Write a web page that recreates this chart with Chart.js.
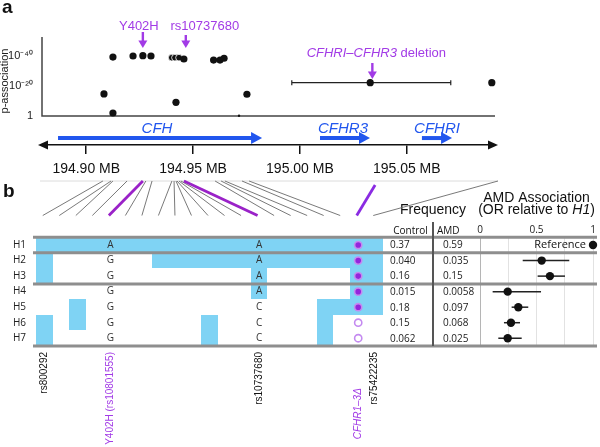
<!DOCTYPE html>
<html>
<head>
<meta charset="utf-8">
<script src="https://cdn.jsdelivr.net/npm/chart.js@4.4.1/dist/chart.umd.min.js"></script>
<style>
  body { margin: 0; background: #fff; width: 600px; height: 447px; position: relative; overflow: hidden; }
  canvas { position: absolute; left: 0; }
  #top { top: 0; }
  #forest, #haplo { top: 175px; }
</style>
</head>
<body>
<canvas id="top" width="600" height="180"></canvas>
<canvas id="forest" width="600" height="272"></canvas>
<canvas id="haplo" width="600" height="272"></canvas>
<script>
const FONT = '"Liberation Sans", Arial, sans-serif';
const TFONT = '"Open Sans", "Liberation Sans", sans-serif';
const PURPLE = '#a23be6';
const BLUE = '#2156ee';
const CELL = '#7fd3f4';
const SEP = '#8e8e8e';
Chart.defaults.font.family = FONT;
Chart.defaults.color = '#111';

// ---- panel a: association (-log10 p) by position in MB ----
const snpPos = [194.9083, 194.9125, 194.9125, 194.9219, 194.9265, 194.9303, 194.9400, 194.9415,
  194.9434, 194.9457, 194.9420, 194.9596, 194.9626, 194.9645, 194.9752, 194.9715, 195.0329, 195.0898];
const snpLogP = [14.7, 2, 39.3, 40, 40.2, 40, 38.9, 38.9, 38.9, 38, 9.1, 37.3, 37.3, 38.5, 14.5, 0.2, 22.2, 22.2];
const delIdx = 16;
const delLow = 194.9962;
const delHigh = 195.0706;

const pTicks = [0, 20, 40];
const pLabels = ['1', '10⁻²⁰', '10⁻⁴⁰'];
const mbTicks = [194.90, 194.95, 195.00, 195.05];

const genes = ['CFH', 'CFHR3', 'CFHRI'];
const geneStart = [194.8868, 195.0094, 195.0571];
const geneEnd = [194.9823, 195.0328, 195.0712];

const markLabels = ['Y402H', 'rs10737680'];
const markPos = [194.9265, 194.9466];
const delMarkPos = 195.0339;

// ---- panel b: haplotypes over 21 SNP columns ----
const colPos = [194.9078, 194.9116, 194.9125, 194.9191, 194.9265, 194.9279, 194.9308, 194.9401,
  194.9411, 194.9420, 194.9425, 194.9434, 194.9443, 194.9457, 194.9603, 194.9631, 194.9649,
  194.9729, 194.9762, 195.0352, 195.0927];
const haplotypes = ['H1', 'H2', 'H3', 'H4', 'H5', 'H6', 'H7'];
const hapBits = [
  '111111111111111111111',
  '100000011111111111111',
  '100000000000010000011',
  '000000000000010000011',
  '001000000000000001111',
  '101000000010000001000',
  '100000000010000001000'
];
const y402hAllele = ['A', 'G', 'G', 'G', 'G', 'G', 'G'];
const rs107Allele = ['A', 'A', 'A', 'A', 'C', 'C', 'C'];
const hasCFHR = [1, 1, 1, 1, 1, 0, 0];
const snpLabelCols = [0, 4, 13, 19, 20];
const snpLabels = ['rs800292', 'Y402H (rs10801555)', 'rs10737680', 'CFHR1–3Δ             ', 'rs75422235'];
const purpleCols = [4, 13, 19];

const ctrlFreq = ['0.37', '0.040', '0.16', '0.015', '0.18', '0.15', '0.062'];
const amdFreq = ['0.59', '0.035', '0.15', '0.0058', '0.097', '0.068', '0.025'];

const orEst = [1, 0.546, 0.619, 0.245, 0.339, 0.274, 0.245];
const orLow = [null, 0.378, 0.51, 0.112, 0.28, 0.212, 0.162];
const orHigh = [null, 0.79, 0.752, 0.54, 0.427, 0.354, 0.369];
const orTicks = [0, 0.25, 0.5, 0.75, 1];
const orLabels = ['0', '', '0.5', '', '1'];

function arrowDown(ctx, x, y0, y1, color) {
  ctx.strokeStyle = color; ctx.fillStyle = color; ctx.lineWidth = 2.4;
  ctx.beginPath(); ctx.moveTo(x, y0); ctx.lineTo(x, y1 - 6); ctx.stroke();
  ctx.beginPath(); ctx.moveTo(x - 4.5, y1 - 7.5); ctx.lineTo(x + 4.5, y1 - 7.5); ctx.lineTo(x, y1); ctx.closePath(); ctx.fill();
}

function arrowRight(ctx, x0, x1, y, color) {
  ctx.strokeStyle = color; ctx.fillStyle = color; ctx.lineWidth = 4;
  ctx.beginPath(); ctx.moveTo(x0, y); ctx.lineTo(x1 - 8, y); ctx.stroke();
  ctx.beginPath(); ctx.moveTo(x1 - 11, y - 6); ctx.lineTo(x1 - 11, y + 6); ctx.lineTo(x1, y); ctx.closePath(); ctx.fill();
}

function mixedText(ctx, parts, cx, y, size, family) {
  let w = 0;
  parts.forEach(p => { ctx.font = (p[1] ? 'italic ' : '') + size + 'px ' + family; w += ctx.measureText(p[0]).width; });
  let x = cx - w / 2;
  ctx.textAlign = 'left';
  parts.forEach(p => {
    ctx.font = (p[1] ? 'italic ' : '') + size + 'px ' + family;
    ctx.fillText(p[0], x, y);
    x += ctx.measureText(p[0]).width;
  });
}

const topDecor = {
  id: 'topDecor',
  beforeDatasetsDraw(chart) {
    const { ctx, chartArea: a, scales: { x, y } } = chart;
    const y0 = y.getPixelForValue(0);
    ctx.save();
    ctx.fillStyle = '#111';
    ctx.font = 'bold 19px ' + FONT;
    ctx.textBaseline = 'alphabetic';
    ctx.fillText('a', 2, 13);

    ctx.save();
    ctx.translate(8, 81);
    ctx.rotate(-Math.PI / 2);
    ctx.font = '11px ' + FONT;
    ctx.textAlign = 'center';
    ctx.fillStyle = '#222';
    ctx.fillText('p-association', 0, 0);
    ctx.restore();

    ctx.strokeStyle = '#444'; ctx.lineWidth = 1.5;
    ctx.beginPath(); ctx.moveTo(a.left, a.top); ctx.lineTo(a.left, y0); ctx.lineTo(a.right, y0); ctx.stroke();

    // deletion interval
    const yd = y.getPixelForValue(snpLogP[delIdx]);
    const xl = x.getPixelForValue(delLow), xh = x.getPixelForValue(delHigh);
    ctx.strokeStyle = '#222'; ctx.lineWidth = 1.2;
    ctx.beginPath();
    ctx.moveTo(xl, yd); ctx.lineTo(xh, yd);
    ctx.moveTo(xl, yd - 2.5); ctx.lineTo(xl, yd + 2.5);
    ctx.moveTo(xh, yd - 2.5); ctx.lineTo(xh, yd + 2.5);
    ctx.stroke();

    // arrow heads of the genomic axis
    ctx.fillStyle = '#111';
    ctx.beginPath(); ctx.moveTo(a.left - 4, a.bottom); ctx.lineTo(a.left + 6, a.bottom - 4.5); ctx.lineTo(a.left + 6, a.bottom + 4.5); ctx.closePath(); ctx.fill();
    ctx.beginPath(); ctx.moveTo(a.right + 3, a.bottom); ctx.lineTo(a.right - 7, a.bottom - 4.5); ctx.lineTo(a.right - 7, a.bottom + 4.5); ctx.closePath(); ctx.fill();

    // genes
    const gy = y.getPixelForValue(-14.7);
    genes.forEach((g, i) => {
      const g0 = x.getPixelForValue(geneStart[i]), g1 = x.getPixelForValue(geneEnd[i]);
      arrowRight(ctx, g0, g1, gy, BLUE);
      ctx.fillStyle = BLUE;
      ctx.font = 'italic 15px ' + FONT;
      ctx.textAlign = 'center';
      ctx.fillText(g, i === 0 ? 157 : (g0 + g1) / 2 + (i === 1 ? -2 : 0), gy - 5.5);
    });

    // annotations
    ctx.fillStyle = PURPLE;
    ctx.font = '13px ' + FONT;
    ctx.textAlign = 'center';
    const mx0 = x.getPixelForValue(markPos[0]), mx1 = x.getPixelForValue(markPos[1]);
    ctx.fillText(markLabels[0], mx0 - 4, 29.5);
    ctx.fillText(markLabels[1], mx1 + 19, 29.5);
    arrowDown(ctx, mx0, 32, 48, PURPLE);
    arrowDown(ctx, mx1, 35, 48, PURPLE);
    const dx = x.getPixelForValue(delMarkPos);
    ctx.fillStyle = PURPLE;
    mixedText(ctx, [['CFHRI–CFHR3', true], [' deletion', false]], dx + 4, 56.5, 13, FONT);
    arrowDown(ctx, dx, 63, 79, PURPLE);
    ctx.restore();
  }
};

const topChart = new Chart(document.getElementById('top'), {
  type: 'scatter',
  data: {
    datasets: [{
      data: snpPos.map((p, i) => ({ x: p, y: snpLogP[i] })),
      backgroundColor: '#111',
      borderColor: ctx => (ctx.dataIndex >= 6 && ctx.dataIndex <= 8) ? '#fff' : '#111',
      borderWidth: ctx => (ctx.dataIndex >= 6 && ctx.dataIndex <= 8) ? 0.8 : 0,
      pointRadius: ctx => ctx.dataIndex === 15 ? 1.2 : ((ctx.dataIndex >= 6 && ctx.dataIndex <= 8) ? 3.3 : 3.6),
      clip: false
    }]
  },
  options: {
    responsive: false,
    animation: false,
    events: [],
    layout: { padding: { left: 0, right: 105, top: 37, bottom: 0 } },
    plugins: { legend: { display: false }, tooltip: { enabled: false } },
    scales: {
      x: {
        type: 'linear', min: 194.8793, max: 195.0913,
        afterBuildTicks: s => { s.ticks = mbTicks.map(v => ({ value: v })); },
        afterFit: s => { s.height = 35; },
        border: { display: true, color: '#111', width: 1.5 },
        grid: { display: true, drawOnChartArea: false, drawTicks: true, tickLength: 9, color: '#111', lineWidth: 1.5 },
        ticks: { autoSkip: false, maxRotation: 0, padding: 7, color: '#111', font: { size: 14 },
          callback: v => v.toFixed(2) + ' MB' }
      },
      y: {
        type: 'linear', min: -19.33, max: 52.67,
        afterBuildTicks: s => { s.ticks = pTicks.map(v => ({ value: v })); },
        afterFit: s => { s.width = 42; },
        border: { display: false },
        grid: { display: false, drawTicks: false },
        ticks: { padding: 9, color: '#222', font: { size: 11 }, callback: (v, i) => pLabels[i] }
      }
    }
  },
  plugins: [topDecor]
});

const forestDecor = {
  id: 'forestDecor',
  beforeDatasetsDraw(chart) {
    const { ctx, scales: { x, y } } = chart;
    ctx.save();
    ctx.strokeStyle = '#222'; ctx.lineWidth = 1.5;
    orLow.forEach((lo, i) => {
      if (lo == null) return;
      const py = y.getPixelForValue(i);
      ctx.beginPath(); ctx.moveTo(x.getPixelForValue(lo), py); ctx.lineTo(x.getPixelForValue(orHigh[i]), py); ctx.stroke();
    });
    ctx.fillStyle = '#111';
    ctx.font = '11px ' + TFONT;
    ctx.textAlign = 'right';
    ctx.textBaseline = 'middle';
    ctx.fillText('Reference', x.getPixelForValue(orEst[0]) - 7, y.getPixelForValue(0));
    ctx.restore();
  }
};

const forestChart = new Chart(document.getElementById('forest'), {
  type: 'scatter',
  data: {
    datasets: [{
      data: orEst.map((v, i) => ({ x: v, y: i })),
      backgroundColor: '#111',
      borderWidth: 0,
      pointRadius: 4.2,
      clip: false
    }]
  },
  options: {
    responsive: false,
    animation: false,
    events: [],
    layout: { padding: { left: 480, right: 7, top: 0, bottom: 101 } },
    plugins: { legend: { display: false }, tooltip: { enabled: false } },
    scales: {
      x: {
        type: 'linear', position: 'top', min: 0, max: 1,
        afterBuildTicks: s => { s.ticks = orTicks.map(v => ({ value: v })); },
        afterFit: s => { s.height = 62.3; },
        border: { display: false },
        grid: { drawTicks: false, color: c => c.tick && c.tick.value === 0 ? '#b5b5b5' : '#e2e2e2', lineWidth: 1 },
        ticks: { autoSkip: false, maxRotation: 0, padding: 1, color: '#222', font: { family: TFONT, size: 10 },
          callback: (v, i) => orLabels[i] }
      },
      y: { type: 'linear', min: -0.5, max: 6.5, reverse: true, display: false }
    }
  },
  plugins: [forestDecor]
});

const haploDecor = {
  id: 'haploDecor',
  beforeDatasetsDraw(chart) {
    const { ctx, scales: { x, y } } = chart;
    const xa = topChart.scales.x;
    ctx.save();

    // blue cells (minor alleles), merged into runs per row
    ctx.fillStyle = CELL;
    hapBits.forEach((bits, r) => {
      const y0 = Math.round(y.getPixelForValue(r - 0.5)), y1 = Math.round(y.getPixelForValue(r + 0.5));
      let c = 0;
      while (c < bits.length) {
        if (bits[c] === '1') {
          let e = c;
          while (e + 1 < bits.length && bits[e + 1] === '1') e++;
          const x0 = Math.round(x.getPixelForValue(c)), x1 = Math.round(x.getPixelForValue(e + 1));
          ctx.fillRect(x0, y0, x1 - x0, y1 - y0);
          c = e + 1;
        } else c++;
      }
    });

    // separators between haplotype groups
    ctx.strokeStyle = SEP; ctx.lineWidth = 3;
    [-0.5, 0.5, 2.5, 6.5].forEach(v => {
      const py = y.getPixelForValue(v);
      ctx.beginPath(); ctx.moveTo(33, py); ctx.lineTo(597, py); ctx.stroke();
    });

    // alleles
    ctx.fillStyle = '#333';
    ctx.font = '10px ' + TFONT;
    ctx.textAlign = 'center';
    ctx.textBaseline = 'middle';
    haplotypes.forEach((h, r) => {
      const py = y.getPixelForValue(r);
      ctx.fillText(y402hAllele[r], x.getPixelForValue(4.5), py);
      ctx.fillText(rs107Allele[r], x.getPixelForValue(13.5), py);
    });

    // frequencies
    ctx.textAlign = 'left';
    ctx.fillStyle = '#222';
    haplotypes.forEach((h, r) => {
      const py = y.getPixelForValue(r) + 0.5;
      ctx.fillText(ctrlFreq[r], 390, py);
      ctx.fillText(amdFreq[r], 443, py);
    });
    ctx.strokeStyle = '#555'; ctx.lineWidth = 2;
    ctx.beginPath(); ctx.moveTo(433, 47); ctx.lineTo(433, y.getPixelForValue(6.5)); ctx.stroke();

    // headers
    ctx.textBaseline = 'alphabetic';
    ctx.fillStyle = '#111';
    ctx.font = '14px ' + FONT;
    ctx.textAlign = 'center';
    ctx.fillText('Frequency', 433, 38.5);
    ctx.fillText('AMD Association', 536.5, 26.5);
    mixedText(ctx, [['(OR relative to ', false], ['H1', true], [')', false]], 536.5, 38.5, 14, FONT);
    ctx.font = '10px ' + TFONT;
    ctx.textAlign = 'center';
    ctx.fillText('Control', 410.5, 58.5);
    ctx.textAlign = 'left';
    ctx.fillText('AMD', 437, 58.5);

    // b label
    ctx.font = 'bold 19px ' + FONT;
    ctx.fillText('b', 3, 22);

    // lines from genomic positions down to haplotype columns
    ctx.strokeStyle = '#dcdcdc'; ctx.lineWidth = 1;
    ctx.beginPath(); ctx.moveTo(40, 6); ctx.lineTo(498, 6); ctx.stroke();
    colPos.forEach((mb, c) => {
      const x0 = xa.getPixelForValue(mb), x1 = x.getPixelForValue(c + 0.5) - 1.5;
      const purple = purpleCols.includes(c);
      ctx.strokeStyle = purple ? (c === 19 ? '#8a2be2' : '#9a22c8') : '#6a6a6a';
      ctx.lineWidth = purple ? 2.8 : 0.9;
      ctx.beginPath();
      ctx.moveTo(x0, c === 19 ? 10 : 6);
      ctx.lineTo(x1, 40.5);
      ctx.stroke();
    });
    ctx.restore();
  }
};

const haploChart = new Chart(document.getElementById('haplo'), {
  type: 'scatter',
  data: {
    datasets: [{
      data: hasCFHR.map((v, i) => ({ x: 19.5, y: i })),
      backgroundColor: hasCFHR.map(v => v ? '#9326dc' : '#ffffff'),
      borderColor: hasCFHR.map(v => v ? '#c48af0' : '#c48af0'),
      borderWidth: 1.6,
      pointRadius: 3.6
    }]
  },
  options: {
    responsive: false,
    animation: false,
    events: [],
    layout: { padding: { left: 0, right: 217, top: 62.3, bottom: 0 } },
    plugins: { legend: { display: false }, tooltip: { enabled: false } },
    scales: {
      x: {
        type: 'linear', min: 0, max: 21,
        afterBuildTicks: s => { s.ticks = snpLabelCols.map(c => ({ value: c + 0.5 })); },
        afterFit: s => { s.height = 101; },
        border: { display: false },
        grid: { display: false, drawTicks: false },
        ticks: {
          autoSkip: false, minRotation: 90, maxRotation: 90, padding: 6,
          color: c => (c.index === 1 || c.index === 3) ? PURPLE : '#111',
          font: c => ({ family: FONT, size: 10, style: c.index === 3 ? 'italic' : 'normal' }),
          callback: (v, i) => snpLabels[i]
        }
      },
      y: {
        type: 'linear', min: -0.5, max: 6.5, reverse: true,
        afterBuildTicks: s => { s.ticks = haplotypes.map((h, i) => ({ value: i })); },
        afterFit: s => { s.width = 36; },
        border: { display: false },
        grid: { display: false, drawTicks: false },
        ticks: { padding: 10, color: '#222', font: { family: TFONT, size: 10 }, callback: (v, i) => haplotypes[i] }
      }
    }
  },
  plugins: [haploDecor]
});
</script>
</body>
</html>
